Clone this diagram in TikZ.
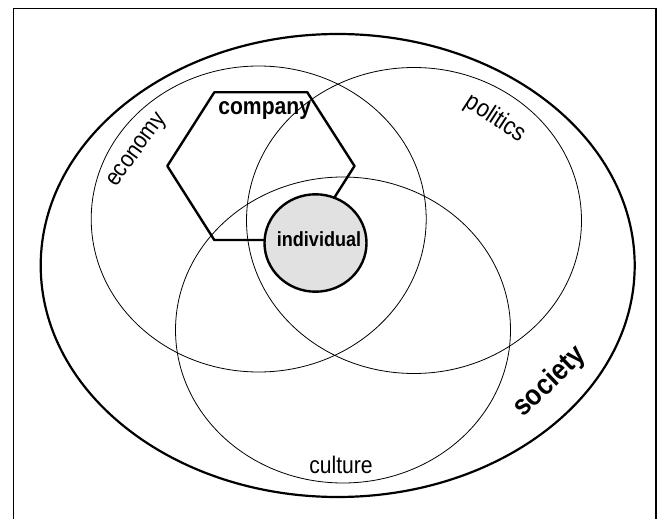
\documentclass[tikz,border=0pt]{standalone}
\usepackage{fontspec}
\setmainfont{Liberation Sans}[FakeStretch=0.88]
\usepackage{tikz}
\usepackage{xcolor}
\definecolor{indfill}{RGB}{225,225,225}

\begin{document}
\begin{tikzpicture}[x=1pt, y=-1pt,
    thinring/.style={draw, line width=0.8pt},
    boldline/.style={draw, line width=2.4pt, line join=round},
    word/.style={inner sep=0pt, font=\fontsize{24}{28}\selectfont},
    bigword/.style={inner sep=0pt, font=\fontsize{24}{28}\selectfont\bfseries}]
    \useasboundingbox (0, 0) rectangle (657, 519);
    \draw[line width=1.5pt] (13.5, 8.5) rectangle (656, 540);

    % society and the three spheres
    \draw[line width=2.2pt] (337.7, 265.5) ellipse [x radius=297, y radius=231.5];
    \draw[thinring] (258.7, 219) ellipse [x radius=167.5, y radius=153];
    \draw[thinring] (414, 220.5) ellipse [x radius=167.5, y radius=153];
    \draw[thinring] (343, 330) ellipse [x radius=167.5, y radius=153];

    % company hexagon, individual on top of it
    \draw[boldline] (167.3, 166) -- (214.3, 92.3) -- (307.3, 92.3)
                    -- (354.5, 166) -- (307.3, 240) -- (214.3, 240) -- cycle;
    \draw[boldline, fill=indfill] (315.5, 243) ellipse [x radius=51, y radius=48.7];

    \node[word, rotate=54] (eco) at (138, 151) {economy};
    \node[word, font=\fontsize{25}{29}\selectfont, rotate=-33] (pol) at (495.5, 118.7) {politics};
    \node[word] (cul) at (341, 465) {culture};
    \node[bigword] (cmp) at (264.7, 111) {company};
    \node[bigword, font=\fontsize{20.5}{24}\selectfont\bfseries] (ind) at (319, 239) {individual};
    \node[bigword, font=\fontsize{29}{33}\selectfont\bfseries, rotate=44] (soc) at (550, 382) {society};
\end{tikzpicture}
\end{document}
